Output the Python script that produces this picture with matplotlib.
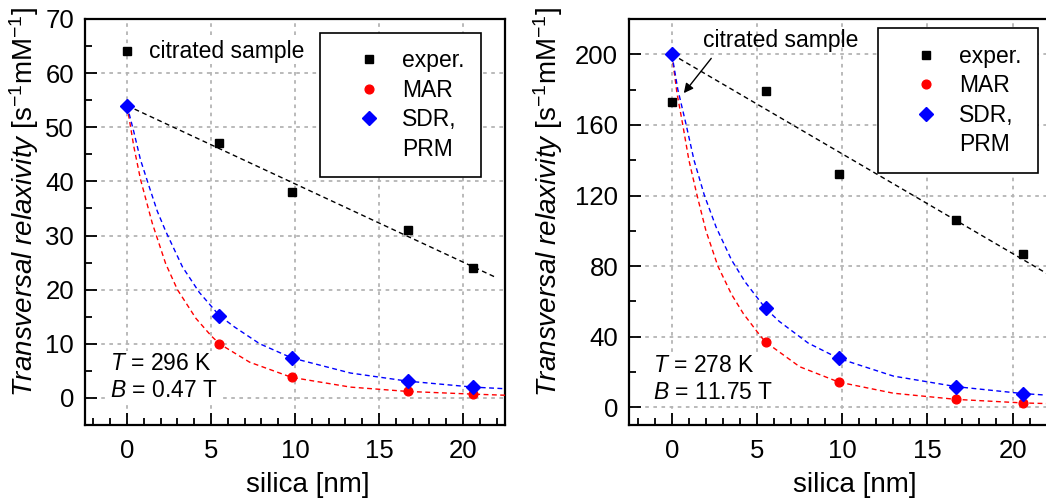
import numpy as np
import matplotlib
matplotlib.use('Agg')
import matplotlib.pyplot as plt
from matplotlib.lines import Line2D
from matplotlib.ticker import MultipleLocator

plt.rcParams['font.family'] = ['Liberation Sans', 'DejaVu Sans']
plt.rcParams['mathtext.fontset'] = 'custom'
plt.rcParams['mathtext.rm'] = 'Liberation Sans'
plt.rcParams['mathtext.it'] = 'Liberation Sans:italic'

# silica shell thickness of the samples [nm]
silica = [5.5, 9.8, 16.7, 20.6]
model_x = [0, 5.5, 9.8, 16.7, 20.6]

# left panel: T = 296 K, B = 0.47 T
exp_296 = [47, 38, 31, 24]
citrated_296 = 64
mar_296 = [54, 10, 3.8, 1.2, 0.7]
sdr_296 = [54, 15.2, 7.4, 3.1, 2.0]
# dashed model curves
mar_curve_x_296 = [0, 0.4, 0.8, 1.5, 2.3, 3.0, 4.1, 5.0, 5.5, 7.3, 9.8, 13.3, 16.7, 20.6, 22.5]
mar_curve_y_296 = [54, 46.5, 40.4, 32.3, 24.8, 20.0, 14.7, 11.5, 10.0, 6.6, 3.8, 2.0, 1.2, 0.7, 0.5]
sdr_curve_x_296 = [0, 0.4, 0.8, 1.3, 1.8, 2.3, 3.3, 4.3, 5.5, 6.4, 7.9, 9.8, 13.3, 16.7, 20.6, 22.5]
sdr_curve_y_296 = [54, 49.2, 44.0, 39.2, 34.5, 30.8, 24.2, 19.5, 15.2, 13.1, 10.0, 7.4, 4.6, 3.1, 2.0, 1.7]
fit_x_296 = [0, 22]
fit_y_296 = [54, 22.2]

# right panel: T = 278 K, B = 11.75 T
exp_278 = [179, 132, 106, 87]
citrated_278 = 173
mar_278 = [200, 37, 14.3, 4.5, 2.5]
sdr_278 = [200, 56, 27.7, 11.7, 7.8]
mar_curve_x_278 = [0, 0.3, 0.64, 1.0, 1.48, 2.0, 2.7, 3.5, 4.2, 5.23, 5.5, 7.5, 9.8, 13.0, 16.7, 20.6, 22.5]
mar_curve_y_278 = [200, 178, 160, 140, 120, 100, 80, 64, 53, 40, 37, 23, 14.3, 8.0, 4.5, 2.5, 2.0]
sdr_curve_x_278 = [0, 0.35, 0.84, 1.3, 1.91, 2.6, 3.5, 4.3, 5.5, 6.3, 8.0, 9.8, 13.0, 16.7, 20.6, 22.5]
sdr_curve_y_278 = [200, 180, 160, 140, 120, 102, 83.5, 71, 56, 48.7, 36.4, 27.7, 17.7, 11.7, 7.8, 6.6]
fit_x_278 = [0, 22.5]
fit_y_278 = [200, 73]

fs = 18.5
fig = plt.figure(figsize=(10.46, 5.01), dpi=100)
ax1 = fig.add_axes([0.0813, 0.1517, 0.4015, 0.8104])
ax2 = fig.add_axes([0.6016, 0.1517, 0.4073, 0.8104])

dash = (0, (3.5, 2.5))


def style(ax, ylim, major, minor):
    ax.set_xlim(-2.5, 22.5)
    ax.set_ylim(*ylim)
    ax.xaxis.set_major_locator(MultipleLocator(5))
    ax.xaxis.set_minor_locator(MultipleLocator(1))
    ax.yaxis.set_major_locator(MultipleLocator(major))
    ax.yaxis.set_minor_locator(MultipleLocator(minor))
    ax.tick_params(which='both', direction='in', top=False, right=False, width=1.3, labelsize=fs)
    ax.tick_params(which='major', length=8.5)
    ax.tick_params(which='minor', length=4.8)
    ax.tick_params(axis='x', pad=10)
    ax.tick_params(axis='y', pad=8)
    ax.grid(True, which='major', color='#b4b4b4', linestyle=(0, (2, 2.5)), linewidth=1.3)
    ax.set_axisbelow(True)
    for s in ax.spines.values():
        s.set_linewidth(1.6)
    ax.set_xlabel('silica [nm]', fontsize=20)
    ax.set_ylabel(r'$\mathit{Transversal\ relaxivity}$ [s$^{-1}$mM$^{-1}$]', fontsize=20)


def draw(ax, exp, cit, mar, sdr, mcx, mcy, scx, scy, fx, fy):
    ax.plot(fx, fy, color='k', lw=1, linestyle=dash, zorder=3)
    ax.plot(mcx, mcy, color='red', lw=1, linestyle=dash, zorder=3)
    ax.plot(scx, scy, color='blue', lw=1, linestyle=dash, zorder=3)
    ax.plot(silica, exp, 's', color='k', ms=5.5, zorder=4)
    ax.plot([0], [cit], 's', color='k', ms=5.5, zorder=4)
    ax.plot(model_x, mar, 'o', color='red', ms=6.3, zorder=5)
    ax.plot(model_x, sdr, 'D', color='blue', ms=7, zorder=6)


def legend(ax, anchor):
    handles = [
        Line2D([], [], marker='s', color='k', ls='none', ms=5.5),
        Line2D([], [], marker='o', color='red', ls='none', ms=6.3),
        Line2D([], [], marker='D', color='blue', ls='none', ms=7),
        Line2D([], [], ls='none'),
    ]
    leg = ax.legend(handles, ['exper.', 'MAR', 'SDR,', 'PRM'], loc='upper right',
                    bbox_to_anchor=anchor, fontsize=16.5, frameon=True, fancybox=False,
                    edgecolor='k', framealpha=1, borderpad=0.72, labelspacing=0.28,
                    handlelength=2.8, handletextpad=0.04, borderaxespad=0)
    leg.get_frame().set_linewidth(1.2)


style(ax1, (-5, 70), 10, 5)
draw(ax1, exp_296, citrated_296, mar_296, sdr_296, mar_curve_x_296, mar_curve_y_296,
     sdr_curve_x_296, sdr_curve_y_296, fit_x_296, fit_y_296)
legend(ax1, (0.942, 0.9655))
ax1.text(1.29, citrated_296, 'citrated sample', fontsize=16.5, va='center', ha='left',
         bbox=dict(facecolor='white', edgecolor='none', pad=1))
ax1.text(0.06, 0.18, '$\\mathit{T}$ = 296 K\n$\\mathit{B}$ = 0.47 T', transform=ax1.transAxes,
         fontsize=16.5, va='top', ha='left', linespacing=1.25,
         bbox=dict(facecolor='white', edgecolor='none', pad=1), zorder=2)
ax1.yaxis.set_label_coords(-0.105, 0.55)
ax1.xaxis.set_label_coords(0.53, -0.115)

style(ax2, (-10, 220), 40, 20)
draw(ax2, exp_278, citrated_278, mar_278, sdr_278, mar_curve_x_278, mar_curve_y_278,
     sdr_curve_x_278, sdr_curve_y_278, fit_x_278, fit_y_278)
legend(ax2, (0.960, 0.977))
ax2.text(1.82, 204.3, 'citrated sample', fontsize=16.5, va='baseline', ha='left')
ax2.annotate('', xy=(0.7, 178), xytext=(2.31, 197.7),
             arrowprops=dict(arrowstyle='-|>', color='k', lw=1, mutation_scale=14,
                             shrinkA=0, shrinkB=0))
ax2.text(0.056, 0.175, '$\\mathit{T}$ = 278 K\n$\\mathit{B}$ = 11.75 T', transform=ax2.transAxes,
         fontsize=16.5, va='top', ha='left', linespacing=1.25,
         bbox=dict(facecolor='white', edgecolor='none', pad=1), zorder=2)
ax2.yaxis.set_label_coords(-0.15, 0.55)
ax2.xaxis.set_label_coords(0.53, -0.115)

fig.savefig('out.png', dpi=100)
